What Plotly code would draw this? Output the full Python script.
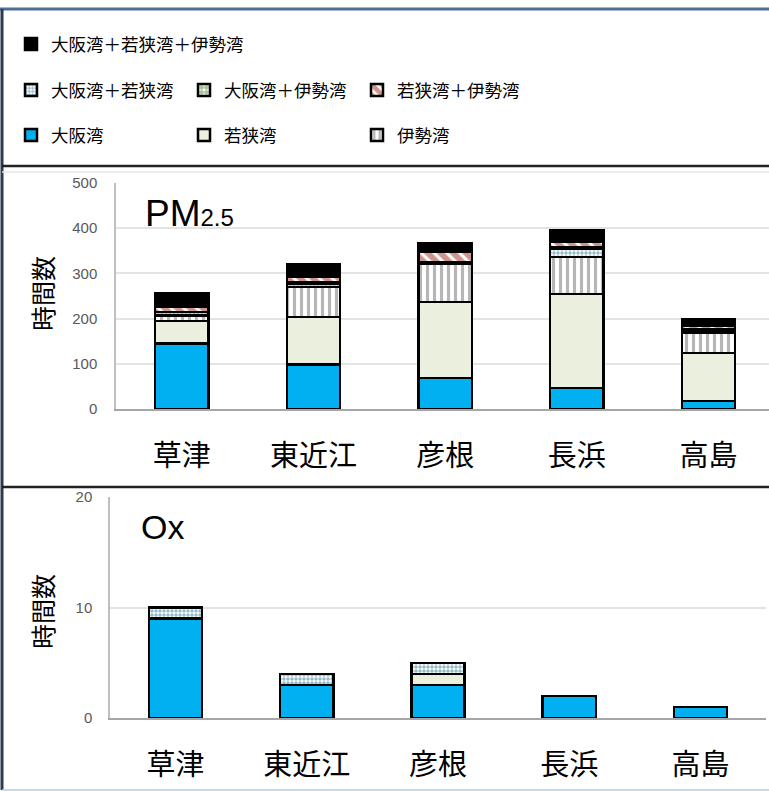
import plotly.graph_objects as go

stations = ["草津", "東近江", "彦根", "長浜", "高島"]

series_names = ["大阪湾", "若狭湾", "伊勢湾", "大阪湾＋若狭湾", "大阪湾＋伊勢湾", "若狭湾＋伊勢湾", "大阪湾＋若狭湾＋伊勢湾"]

# PM2.5 hours (bottom to top)
pm_osaka = [145, 98, 69, 46, 18]
pm_wakasa = [50, 105, 168, 208, 106]
pm_ise = [12, 67, 85, 82, 45]
pm_osaka_wakasa = [8, 8, 3, 18, 7]
pm_osaka_ise = [0, 3, 0, 3, 0]
pm_wakasa_ise = [12, 12, 22, 12, 8]
pm_all = [28, 27, 20, 27, 15]

# Ox hours
ox_osaka = [9, 3, 3, 2, 1]
ox_wakasa = [0, 0, 1, 0, 0]
ox_ise = [0, 0, 0, 0, 0]
ox_osaka_wakasa = [1, 1, 1, 0, 0]
ox_osaka_ise = [0, 0, 0, 0, 0]
ox_wakasa_ise = [0, 0, 0, 0, 0]
ox_all = [0, 0, 0, 0, 0]

pm_data = [pm_osaka, pm_wakasa, pm_ise, pm_osaka_wakasa, pm_osaka_ise, pm_wakasa_ise, pm_all]
ox_data = [ox_osaka, ox_wakasa, ox_ise, ox_osaka_wakasa, ox_osaka_ise, ox_wakasa_ise, ox_all]

styles = [
    dict(color="#00B0F0", pattern=dict(shape="")),
    dict(color="#EBF0DE", pattern=dict(shape="")),
    dict(color="white", pattern=dict(shape="|", fgcolor="#6E6E6E", bgcolor="white", size=7, solidity=0.45, fillmode="overlay")),
    dict(color="white", pattern=dict(shape=".", fgcolor="#2A7590", bgcolor="white", size=4, solidity=0.6, fillmode="overlay")),
    dict(color="white", pattern=dict(shape=".", fgcolor="#548235", bgcolor="white", size=6, solidity=0.7, fillmode="overlay")),
    dict(color="white", pattern=dict(shape="\\", fgcolor="#9E2A1C", bgcolor="white", size=9, solidity=0.65, fillmode="overlay")),
    dict(color="black", pattern=dict(shape="")),
]
legend_ids = ["legend3", "legend3", "legend3", "legend2", "legend2", "legend2", "legend"]

FONT = "Noto Sans CJK JP"
W, H = 769, 791

def py(p):
    return 1 - p / H

def px(p):
    return p / W

fig = go.Figure()
for name, vals, st, lg in zip(series_names, pm_data, styles, legend_ids):
    fig.add_trace(go.Bar(
        x=stations, y=[v if v else None for v in vals], name=name,
        xaxis="x", yaxis="y", legend=lg, showlegend=True,
        marker=dict(color=st["color"], pattern=st["pattern"], line=dict(color="black", width=2.5)),
        hoverinfo="skip",
    ))
for name, vals, st in zip(series_names, ox_data, styles):
    fig.add_trace(go.Bar(
        x=stations, y=[v if v else None for v in vals], name=name,
        xaxis="x2", yaxis="y2", showlegend=False,
        marker=dict(color=st["color"], pattern=st["pattern"], line=dict(color="black", width=2.5)),
        hoverinfo="skip",
    ))

axis_common = dict(showgrid=False, zeroline=False, fixedrange=True, automargin=False)
yaxis_common = dict(showgrid=True, gridcolor="#E3E3E3", gridwidth=1.5,
                    showline=True, linecolor="#BFBFBF", linewidth=1.5,
                    tickfont=dict(size=15, family="Liberation Sans", color="#595959"),
                    ticks="outside", tickcolor="rgba(0,0,0,0)",
                    zeroline=False, fixedrange=True, automargin=False)
legend_common = dict(xanchor="left", yanchor="middle", orientation="h", traceorder="normal",
                     font=dict(size=17.5, family=FONT), bgcolor="rgba(0,0,0,0)", itemwidth=30)

fig.update_layout(
    width=W, height=H,
    margin=dict(l=0, r=0, t=0, b=0, autoexpand=False),
    paper_bgcolor="white", plot_bgcolor="white",
    barmode="stack", bargap=0.595,
    font=dict(family=FONT, color="black"),
    xaxis=dict(domain=[px(116), 1], range=[-0.5, 4.46], anchor="y",
               showline=True, linecolor="#A6A6A6", linewidth=1.5,
               tickfont=dict(size=29, family=FONT, color="black"),
               ticks="outside", ticklen=20, tickcolor="rgba(0,0,0,0)", **axis_common),
    yaxis=dict(domain=[py(409), py(183)], range=[0, 500], dtick=100, anchor="x", ticklen=14, **yaxis_common),
    xaxis2=dict(domain=[px(110), px(766)], range=[-0.5, 4.5], anchor="y2",
                showline=True, linecolor="#A6A6A6", linewidth=1.5,
                tickfont=dict(size=29, family=FONT, color="black"),
                ticks="outside", ticklen=20, tickcolor="rgba(0,0,0,0)", **axis_common),
    yaxis2=dict(domain=[py(718), py(497)], range=[0, 20], dtick=10, anchor="x2", ticklen=13, **yaxis_common),
    legend=dict(x=px(11), y=py(44), **legend_common),
    legend2=dict(x=px(11), y=py(90), entrywidth=128, **legend_common),
    legend3=dict(x=px(11), y=py(135), entrywidth=128, **legend_common),
    showlegend=True,
)

fig.add_annotation(x=px(143), y=py(213), xref="paper", yref="paper", xanchor="left", yanchor="middle",
                   text="PM<span style='font-size:24px'>2.5</span>", showarrow=False,
                   font=dict(size=37, family="Liberation Sans", color="black"))
fig.add_annotation(x=px(139), y=py(527), xref="paper", yref="paper", xanchor="left", yanchor="middle",
                   text="Ox", showarrow=False,
                   font=dict(size=34, family="Liberation Sans", color="black"))
fig.add_annotation(x=px(42), y=py(294), xref="paper", yref="paper", xanchor="center", yanchor="middle",
                   textangle=-90, text="時間数", showarrow=False,
                   font=dict(size=25, family=FONT, color="black"))
fig.add_annotation(x=px(42), y=py(612), xref="paper", yref="paper", xanchor="center", yanchor="middle",
                   textangle=-90, text="時間数", showarrow=False,
                   font=dict(size=25, family=FONT, color="black"))

# frame lines
fig.add_shape(type="line", xref="paper", yref="paper", x0=0, x1=1, y0=py(9), y1=py(9),
              line=dict(color="#4F6F95", width=3))
fig.add_shape(type="line", xref="paper", yref="paper", x0=px(2), x1=px(2), y0=py(9), y1=py(790),
              line=dict(color="#2B3A4F", width=3))
fig.add_shape(type="line", xref="paper", yref="paper", x0=px(2), x1=1, y0=py(166), y1=py(166),
              line=dict(color="#222222", width=2.5))
fig.add_shape(type="line", xref="paper", yref="paper", x0=px(2), x1=1, y0=py(172), y1=py(172),
              line=dict(color="#E6E6E6", width=1.5))
fig.add_shape(type="line", xref="paper", yref="paper", x0=px(2), x1=1, y0=py(487), y1=py(487),
              line=dict(color="#222222", width=2.5))
fig.add_shape(type="line", xref="paper", yref="paper", x0=px(2), x1=1, y0=py(790), y1=py(790),
              line=dict(color="#B8CCE0", width=1.5))

fig.write_html("out.html", config={"displayModeBar": False},
               post_script="document.body.style.margin='0';document.body.style.overflow='hidden';")
